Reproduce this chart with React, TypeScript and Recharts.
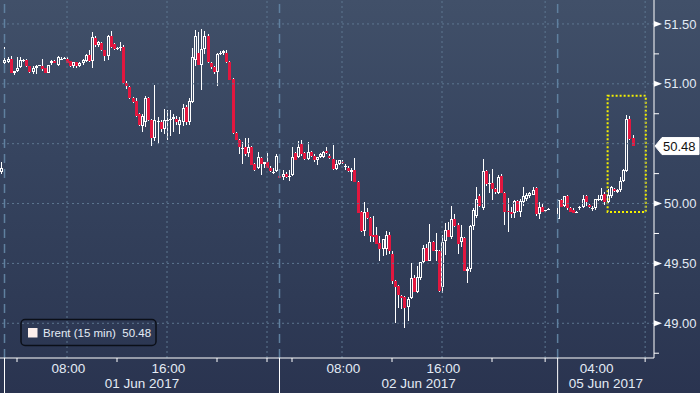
import React from 'react';
import { ComposedChart, Bar, XAxis, YAxis, ReferenceLine, ReferenceArea } from 'recharts';

// ---------- DATA ----------
// 15-minute slot index (time axis); slot 0 is the last bar of the previous session
const range = (a: number, b: number) => Array.from({ length: b - a }, (_, i) => a + i);
const slots: number[] = [...range(0, 176), ...range(178, 203)];

const opens: number[] = [
  50.26, 51.175, 51.18, 51.21, 51.09, 51.11, 51.14, 51.19, 51.2, 51.15,
  51.1, 51.13, 51.15, 51.15, 51.13, 51.09, 51.17, 51.19, 51.16, 51.2,
  51.21, 51.21, 51.19, 51.15, 51.18, 51.15, 51.17, 51.19, 51.24, 51.19,
  51.38, 51.32, 51.34, 51.28, 51.23, 51.4, 51.33, 51.29, 51.3, 51.31,
  51.01, 50.97, 50.88, 50.86, 50.75, 50.65, 50.68, 50.88, 50.7, 50.55,
  50.68, 50.68, 50.62, 50.69, 50.7, 50.71, 50.71, 50.66, 50.68, 50.81,
  50.68, 50.85, 51.2, 51.26, 51.16, 51.29, 51.4, 51.17, 51.14, 51.1,
  51.25, 51.26, 51.26, 51.18, 51.04, 50.59, 50.53, 50.46, 50.475, 50.42,
  50.475, 50.33, 50.3, 50.38, 50.33, 50.35, 50.3, 50.255, 50.27, 50.23,
  50.22, 50.25, 50.22, 50.24, 50.42, 50.39, 50.5, 50.425, 50.37, 50.43,
  50.4, 50.36, 50.39, 50.39, 50.44, 50.4, 50.375, 50.285, 50.33, 50.35,
  50.31, 50.3, 50.26, 50.28, 50.18, 49.93, 49.77, 49.93, 49.88, 49.74,
  49.74, 49.67, 49.62, 49.62, 49.74, 49.58, 49.35, 49.31, 49.23, 49.22,
  49.14, 49.21, 49.38, 49.26, 49.38, 49.51, 49.63, 49.52, 49.68, 49.6,
  49.6, 49.3, 49.69, 49.78, 49.72, 49.87, 49.82, 49.68, 49.71, 49.44,
  49.45, 49.81, 49.9, 50.06, 49.96, 50.27, 50.16, 50.17, 50.12, 50.09,
  50.23, 50.09, 49.94, 49.93, 49.92, 50.02, 49.93, 50.01, 50.04, 50.06,
  50.075, 50.13, 49.91, 49.97, 49.935, 49.955,
  49.87, 50.03, 49.98, 50.06, 49.96, 49.95, 49.93, 49.96, 49.97, 50.06,
  49.99, 49.96, 49.96, 50.03, 50.03, 50.08, 50.01, 50.06, 50.12, 50.1,
  50.11, 50.19, 50.27, 50.71, 50.55,
];
const highs: number[] = [
  50.35, 51.31, 51.22, 51.23, 51.11, 51.22, 51.22, 51.21, 51.21, 51.15,
  51.15, 51.16, 51.16, 51.21, 51.13, 51.16, 51.2, 51.2, 51.23, 51.22,
  51.22, 51.22, 51.19, 51.18, 51.18, 51.18, 51.21, 51.25, 51.28, 51.43,
  51.4, 51.36, 51.35, 51.28, 51.41, 51.44, 51.34, 51.31, 51.35, 51.32,
  51.02, 50.98, 50.89, 50.88, 50.76, 50.75, 50.9, 50.89, 50.71, 50.99,
  50.72, 50.7, 50.79, 50.78, 50.78, 50.75, 50.73, 50.72, 50.83, 50.82,
  50.88, 51.3, 51.45, 51.43, 51.46, 51.44, 51.42, 51.18, 51.15, 51.26,
  51.27, 51.28, 51.28, 51.19, 51.05, 50.6, 50.54, 50.51, 50.55, 50.55,
  50.48, 50.34, 50.43, 50.39, 50.35, 50.42, 50.31, 50.3, 50.41, 50.24,
  50.28, 50.26, 50.28, 50.47, 50.43, 50.52, 50.53, 50.43, 50.51, 50.44,
  50.41, 50.39, 50.42, 50.44, 50.47, 50.41, 50.49, 50.36, 50.36, 50.36,
  50.33, 50.31, 50.3, 50.38, 50.19, 49.94, 50.01, 49.96, 49.89, 49.9,
  49.8, 49.73, 49.7, 49.77, 49.76, 49.6, 49.36, 49.32, 49.24, 49.23,
  49.22, 49.5, 49.4, 49.48, 49.51, 49.65, 49.66, 49.83, 49.69, 49.75,
  49.61, 49.74, 49.84, 49.85, 49.98, 49.91, 49.84, 49.82, 49.72, 49.47,
  49.82, 49.96, 50.14, 50.08, 50.37, 50.28, 50.25, 50.29, 50.13, 50.24,
  50.25, 50.1, 50.05, 49.97, 50.03, 50.03, 50.04, 50.14, 50.09, 50.1,
  50.14, 50.14, 50.01, 50.0, 49.95, 49.96,
  50.03, 50.04, 50.06, 50.07, 49.97, 49.96, 49.94, 49.98, 50.07, 50.07,
  50.0, 49.98, 50.04, 50.07, 50.13, 50.1, 50.12, 50.15, 50.13, 50.12,
  50.22, 50.29, 50.74, 50.73, 50.575,
];
const lows: number[] = [
  50.25, 51.165, 51.17, 51.09, 51.07, 51.1, 51.13, 51.18, 51.14, 51.09,
  51.08, 51.08, 51.15, 51.11, 51.09, 51.09, 51.16, 51.17, 51.15, 51.2,
  51.21, 51.17, 51.14, 51.13, 51.13, 51.14, 51.16, 51.18, 51.18, 51.13,
  51.31, 51.31, 51.27, 51.19, 51.2, 51.3, 51.28, 51.28, 51.27, 51.0,
  50.96, 50.87, 50.84, 50.72, 50.65, 50.6, 50.64, 50.69, 50.48, 50.52,
  50.5, 50.6, 50.58, 50.53, 50.56, 50.6, 50.66, 50.58, 50.65, 50.66,
  50.66, 50.84, 51.15, 51.16, 50.95, 51.25, 51.17, 51.12, 51.08, 50.98,
  51.24, 51.24, 51.17, 51.03, 50.58, 50.53, 50.41, 50.33, 50.4, 50.39,
  50.32, 50.27, 50.29, 50.24, 50.3, 50.3, 50.26, 50.25, 50.26, 50.21,
  50.2, 50.21, 50.19, 50.23, 50.36, 50.38, 50.4, 50.36, 50.36, 50.39,
  50.35, 50.32, 50.38, 50.38, 50.41, 50.37, 50.28, 50.28, 50.32, 50.33,
  50.28, 50.26, 50.19, 50.18, 49.92, 49.76, 49.73, 49.87, 49.68, 49.68,
  49.66, 49.52, 49.56, 49.57, 49.58, 49.33, 49.0, 49.13, 49.12, 48.96,
  49.02, 49.2, 49.26, 49.25, 49.36, 49.5, 49.52, 49.52, 49.6, 49.52,
  49.26, 49.25, 49.57, 49.72, 49.7, 49.8, 49.58, 49.64, 49.44, 49.34,
  49.43, 49.78, 49.88, 49.97, 49.95, 50.15, 50.09, 50.03, 50.08, 50.08,
  50.09, 49.82, 49.76, 49.88, 49.88, 49.93, 49.89, 49.98, 50.02, 50.05,
  50.07, 49.9, 49.87, 49.93, 49.93, 49.95,
  49.87, 49.97, 49.97, 49.95, 49.93, 49.92, 49.92, 49.95, 49.96, 49.98,
  49.96, 49.94, 49.95, 50.02, 50.02, 49.99, 50.0, 50.05, 50.1, 50.09,
  50.1, 50.18, 50.26, 50.53, 50.48,
];
const closes: number[] = [
  50.3, 51.195, 51.21, 51.09, 51.11, 51.13, 51.2, 51.2, 51.15, 51.1,
  51.13, 51.15, 51.155, 51.12, 51.09, 51.16, 51.19, 51.17, 51.22, 51.21,
  51.215, 51.175, 51.15, 51.18, 51.15, 51.17, 51.2, 51.24, 51.19, 51.39,
  51.32, 51.35, 51.28, 51.23, 51.4, 51.31, 51.29, 51.3, 51.31, 51.01,
  50.98, 50.88, 50.85, 50.73, 50.66, 50.73, 50.88, 50.7, 50.55, 50.7,
  50.69, 50.62, 50.7, 50.7, 50.71, 50.72, 50.68, 50.7, 50.8, 50.68,
  50.86, 51.22, 51.4, 51.16, 51.29, 51.4, 51.18, 51.14, 51.1, 51.25,
  51.26, 51.27, 51.18, 51.03, 50.59, 50.53, 50.47, 50.46, 50.41, 50.475,
  50.325, 50.28, 50.39, 50.33, 50.345, 50.3, 50.27, 50.26, 50.4, 50.215,
  50.25, 50.22, 50.23, 50.39, 50.36, 50.475, 50.41, 50.37, 50.43, 50.4,
  50.36, 50.39, 50.415, 50.43, 50.42, 50.38, 50.285, 50.33, 50.36, 50.34,
  50.31, 50.27, 50.28, 50.18, 49.925, 49.77, 49.93, 49.88, 49.73, 49.72,
  49.66, 49.62, 49.7, 49.74, 49.6, 49.35, 49.3, 49.24, 49.21, 49.13,
  49.2, 49.38, 49.26, 49.39, 49.51, 49.63, 49.52, 49.68, 49.6, 49.61,
  49.27, 49.68, 49.78, 49.72, 49.87, 49.81, 49.66, 49.72, 49.44, 49.45,
  49.81, 49.95, 50.04, 49.98, 50.27, 50.16, 50.17, 50.12, 50.1, 50.22,
  50.09, 49.93, 49.93, 49.91, 50.02, 49.94, 50.02, 50.06, 50.07, 50.09,
  50.115, 49.91, 49.97, 49.93, 49.945, 49.958,
  50.03, 49.97, 50.06, 49.96, 49.93, 49.925, 49.932, 49.975, 50.04, 50.01,
  49.97, 49.965, 50.04, 50.04, 50.07, 50.01, 50.07, 50.14, 50.105, 50.115,
  50.19, 50.28, 50.71, 50.54, 50.48,
];

const seriesName = 'Brent (15 min)';
const lastPrice = 50.48;

// y axis
const yDomain: [number, number] = [48.71, 51.7];
const yMajorTicks = [49, 49.5, 50, 51, 51.5];
const yMinorTicks = [48.75, 49.25, 49.75, 50.25, 50.75, 51.25];
const yGridValues = [49, 49.5, 50, 50.5, 51, 51.5];

// x axis (slot units)
const xDomain: [number, number] = [-0.44, 208.84];
const gridSlots = [21, 53, 85, 109, 141, 174, 206];
const minorTickSlots = [5, 37, 69, 85, 93, 125, 157, 174, 206];
const timeLabelSlots = [21, 53, 109, 141, 190];
const timeLabels = ['08:00', '16:00', '08:00', '16:00', '04:00'];
const sessionStartSlots = [1, 89, 178];
const dateLabels = ['01 Jun 2017', '02 Jun 2017', '05 Jun 2017'];

// highlighted box (annotation)
const boxSlots: [number, number] = [194, 206.2];
const boxPrices: [number, number] = [49.93, 50.9];

// ---------- STYLE ----------
const FONT = '"Liberation Sans", Arial, sans-serif';
const TEXT = '#e3ebf5';
const RED = '#e2173f';
const GRID = '#5d7690';
const SEP = '#5f809f';

const data = slots.map((slot, i) => ({
  slot,
  open: opens[i],
  high: highs[i],
  low: lows[i],
  close: closes[i],
}));

const dateLabelSlots = sessionStartSlots.map((s, i) =>
  (s + (i + 1 < sessionStartSlots.length ? sessionStartSlots[i + 1] : xDomain[1])) / 2
);

const xTicks = Array.from(
  new Set([...gridSlots, ...minorTickSlots, ...timeLabelSlots, ...sessionStartSlots, ...dateLabelSlots])
).sort((a, b) => a - b);

const yTicks = [...yMajorTicks, ...yMinorTicks, lastPrice].sort((a, b) => a - b);

const Candle = (props: any) => {
  const { x, y, width, height, payload } = props;
  if (!payload || x == null || y == null) return null;
  const { open, close, high, low } = payload;
  const cx = Math.round(x + width / 2);
  const span = high - low;
  const py = (v: number) => (span <= 0 ? y : y + ((high - v) / span) * height);
  const yH = Math.round(y);
  const yL = Math.round(y + height);
  const up = close >= open;
  let t = Math.round(py(Math.max(open, close)));
  let b = Math.round(py(Math.min(open, close)));
  if (b - t < 1) b = t + 1;
  const wx = cx + 0.5;
  if (!up) {
    return (
      <g>
        <line x1={wx} x2={wx} y1={yH} y2={Math.max(yL, b)} stroke="#ffffff" strokeWidth={1} />
        <rect x={cx - 1} y={t} width={3} height={b - t} fill={RED} />
      </g>
    );
  }
  if (b - t <= 2) {
    return (
      <g>
        <line x1={wx} x2={wx} y1={yH} y2={Math.max(yL, b)} stroke="#ffffff" strokeWidth={1} />
        <rect x={cx - 1} y={t} width={3} height={b - t} fill="#ffffff" />
      </g>
    );
  }
  return (
    <g>
      {t > yH && <line x1={wx} x2={wx} y1={yH} y2={t} stroke="#ffffff" strokeWidth={1} />}
      {yL > b && <line x1={wx} x2={wx} y1={b} y2={yL} stroke="#ffffff" strokeWidth={1} />}
      <rect x={cx - 0.5} y={t + 0.5} width={2} height={b - t - 1} fill="none" stroke="#ffffff" strokeWidth={1} />
    </g>
  );
};

const XTick = (props: any) => {
  const { x, y, payload } = props;
  const v = payload.value;
  const items: React.ReactNode[] = [];
  if (minorTickSlots.includes(v)) {
    items.push(<line key="m" x1={x} x2={x} y1={y} y2={y + 4} stroke="#ffffff" strokeWidth={1} />);
  }
  if (sessionStartSlots.includes(v)) {
    items.push(<line key="s" x1={x} x2={x} y1={y} y2={y + 40} stroke="#ffffff" strokeWidth={1} />);
  }
  const ti = timeLabelSlots.indexOf(v);
  if (ti >= 0) {
    items.push(
      <text key="t" x={x + 1.5} y={y + 15} textAnchor="middle" fontFamily={FONT} fontSize={13.5} fill={TEXT}>
        {timeLabels[ti]}
      </text>
    );
  }
  const di = dateLabelSlots.indexOf(v);
  if (di >= 0) {
    items.push(
      <text key="d" x={x} y={y + 30} textAnchor="middle" fontFamily={FONT} fontSize={13.5} fill={TEXT}>
        {dateLabels[di]}
      </text>
    );
  }
  return <g>{items}</g>;
};

const YTick = (props: any) => {
  const { x, y, payload } = props;
  const v = payload.value;
  if (v === lastPrice) {
    return (
      <g>
        <polygon
          points={`${x + 1},${y} ${x + 8},${y - 8.5} ${x + 45},${y - 8.5} ${x + 45},${y + 8.5} ${x + 8},${y + 8.5}`}
          fill="#ffffff"
          stroke="#ffffff"
        />
        <text x={x + 9} y={y + 4.6} fontFamily={FONT} fontSize={13} fill="#111111">
          {lastPrice.toFixed(2)}
        </text>
      </g>
    );
  }
  if (yMajorTicks.includes(v)) {
    return (
      <g>
        <polygon points={`${x},${y - 3} ${x},${y + 3} ${x + 8},${y}`} fill="#ffffff" />
        <text x={x + 10} y={y + 4.6} fontFamily={FONT} fontSize={13} fill={TEXT}>
          {v.toFixed(2)}
        </text>
      </g>
    );
  }
  return <line x1={x} x2={x + 5} y1={y} y2={y} stroke="#ffffff" strokeWidth={1} />;
};

export default function App() {
  return (
    <div
      style={{
        position: 'absolute',
        left: 0,
        top: 0,
        width: 700,
        height: 393,
        overflow: 'hidden',
        background: 'linear-gradient(180deg, #415069 0%, #36445f 40%, #2f3b56 75%, #2a3450 100%)',
      }}
    >
      <ComposedChart width={700} height={393} data={data} margin={{ top: 0, right: 0, bottom: 0, left: 0 }}>
        <XAxis
          dataKey="slot"
          type="number"
          domain={xDomain}
          allowDataOverflow
          ticks={xTicks}
          interval={0}
          tick={<XTick />}
          tickLine={false}
          tickSize={0}
          tickMargin={0}
          height={35}
          axisLine={{ stroke: '#ffffff', strokeWidth: 1 }}
        />
        <YAxis
          orientation="right"
          type="number"
          domain={yDomain}
          allowDataOverflow
          ticks={yTicks}
          interval={0}
          tick={<YTick />}
          tickLine={false}
          tickSize={0}
          tickMargin={0}
          width={46}
          axisLine={{ stroke: '#ffffff', strokeWidth: 1 }}
        />
        {yGridValues.map((v) => (
          <ReferenceLine key={'hy' + v} y={v} stroke={GRID} strokeDasharray="2 3" strokeWidth={1} />
        ))}
        {gridSlots.map((s) => (
          <ReferenceLine key={'gx' + s} x={s} stroke={GRID} strokeDasharray="2 3" strokeWidth={1} />
        ))}
        {sessionStartSlots.map((s) => (
          <ReferenceLine key={'sx' + s} x={s} stroke={SEP} strokeDasharray="9 6" strokeWidth={1.5} />
        ))}
        <Bar
          dataKey={(d: any) => [d.low, d.high]}
          barSize={3}
          shape={<Candle />}
          isAnimationActive={false}
        />
        <ReferenceArea
          x1={boxSlots[0]}
          x2={boxSlots[1]}
          y1={boxPrices[0]}
          y2={boxPrices[1]}
          fill="none"
          fillOpacity={0}
          stroke="#f4f000"
          strokeWidth={2}
          strokeDasharray="2 2"
        />
      </ComposedChart>
      <svg width={700} height={393} style={{ position: 'absolute', left: 0, top: 0, pointerEvents: 'none' }}>
        <rect x={21} y={319.5} width={135} height={26} rx={4} ry={4} fill="none" stroke="#0b0f18" strokeWidth={1.5} />
        <rect x={28} y={328} width={9.5} height={9.5} fill="#fcefeb" />
        <text x={43} y={337} fontFamily={FONT} fontSize={11.5} fill={TEXT} xmlSpace="preserve">
          {`${seriesName}  ${lastPrice.toFixed(2)}`}
        </text>
      </svg>
    </div>
  );
}
